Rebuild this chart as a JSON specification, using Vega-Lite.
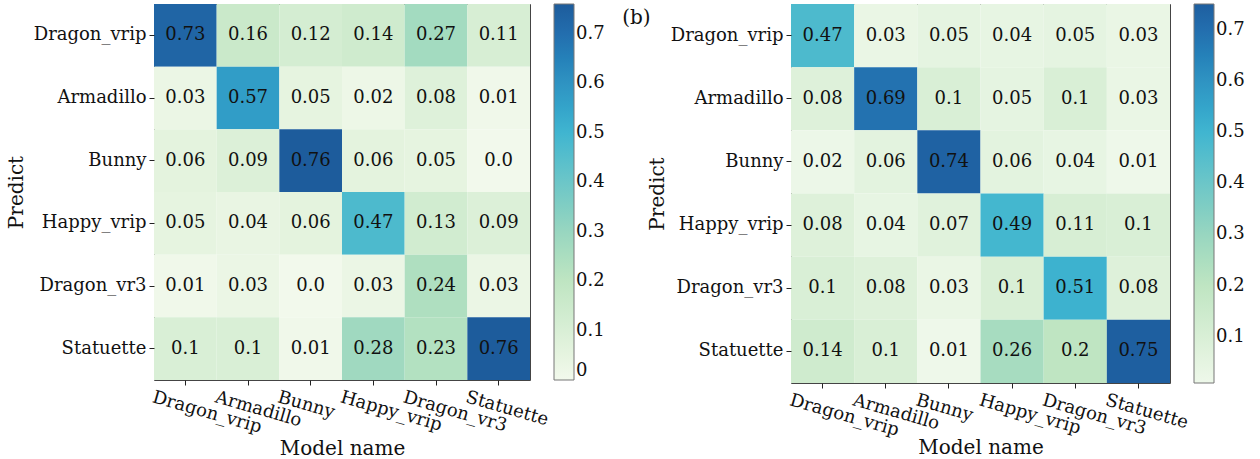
{
  "$schema": "https://vega.github.io/schema/vega-lite/v6.json",
  "padding": {"left": 5, "top": 3, "right": 5, "bottom": 0},
  "config": {
    "font": "DejaVu Serif",
    "view": {"stroke": "#444", "strokeWidth": 1},
    "axis": {"labelFontSize": 18, "titleFontSize": 20, "labelColor": "#111", "titleColor": "#111", "titleFontWeight": "normal", "domain": false, "tickColor": "#222", "tickSize": 5, "grid": false, "labelPadding": 3},
    "legend": {"labelFontSize": 18, "labelColor": "#111", "gradientStrokeColor": "#777", "gradientStrokeWidth": 1, "gradientThickness": 20, "labelOverlap": false, "labelOffset": 6, "offset": 24, "titlePadding": 0}
  },
  "datasets": {
    "a": [
      {"predict": "Dragon_vrip", "model": "Dragon_vrip", "value": 0.73, "lab": "0.73"},
      {"predict": "Dragon_vrip", "model": "Armadillo", "value": 0.16, "lab": "0.16"},
      {"predict": "Dragon_vrip", "model": "Bunny", "value": 0.12, "lab": "0.12"},
      {"predict": "Dragon_vrip", "model": "Happy_vrip", "value": 0.14, "lab": "0.14"},
      {"predict": "Dragon_vrip", "model": "Dragon_vr3", "value": 0.27, "lab": "0.27"},
      {"predict": "Dragon_vrip", "model": "Statuette", "value": 0.11, "lab": "0.11"},
      {"predict": "Armadillo", "model": "Dragon_vrip", "value": 0.03, "lab": "0.03"},
      {"predict": "Armadillo", "model": "Armadillo", "value": 0.57, "lab": "0.57"},
      {"predict": "Armadillo", "model": "Bunny", "value": 0.05, "lab": "0.05"},
      {"predict": "Armadillo", "model": "Happy_vrip", "value": 0.02, "lab": "0.02"},
      {"predict": "Armadillo", "model": "Dragon_vr3", "value": 0.08, "lab": "0.08"},
      {"predict": "Armadillo", "model": "Statuette", "value": 0.01, "lab": "0.01"},
      {"predict": "Bunny", "model": "Dragon_vrip", "value": 0.06, "lab": "0.06"},
      {"predict": "Bunny", "model": "Armadillo", "value": 0.09, "lab": "0.09"},
      {"predict": "Bunny", "model": "Bunny", "value": 0.76, "lab": "0.76"},
      {"predict": "Bunny", "model": "Happy_vrip", "value": 0.06, "lab": "0.06"},
      {"predict": "Bunny", "model": "Dragon_vr3", "value": 0.05, "lab": "0.05"},
      {"predict": "Bunny", "model": "Statuette", "value": 0.0, "lab": "0.0"},
      {"predict": "Happy_vrip", "model": "Dragon_vrip", "value": 0.05, "lab": "0.05"},
      {"predict": "Happy_vrip", "model": "Armadillo", "value": 0.04, "lab": "0.04"},
      {"predict": "Happy_vrip", "model": "Bunny", "value": 0.06, "lab": "0.06"},
      {"predict": "Happy_vrip", "model": "Happy_vrip", "value": 0.47, "lab": "0.47"},
      {"predict": "Happy_vrip", "model": "Dragon_vr3", "value": 0.13, "lab": "0.13"},
      {"predict": "Happy_vrip", "model": "Statuette", "value": 0.09, "lab": "0.09"},
      {"predict": "Dragon_vr3", "model": "Dragon_vrip", "value": 0.01, "lab": "0.01"},
      {"predict": "Dragon_vr3", "model": "Armadillo", "value": 0.03, "lab": "0.03"},
      {"predict": "Dragon_vr3", "model": "Bunny", "value": 0.0, "lab": "0.0"},
      {"predict": "Dragon_vr3", "model": "Happy_vrip", "value": 0.03, "lab": "0.03"},
      {"predict": "Dragon_vr3", "model": "Dragon_vr3", "value": 0.24, "lab": "0.24"},
      {"predict": "Dragon_vr3", "model": "Statuette", "value": 0.03, "lab": "0.03"},
      {"predict": "Statuette", "model": "Dragon_vrip", "value": 0.1, "lab": "0.1"},
      {"predict": "Statuette", "model": "Armadillo", "value": 0.1, "lab": "0.1"},
      {"predict": "Statuette", "model": "Bunny", "value": 0.01, "lab": "0.01"},
      {"predict": "Statuette", "model": "Happy_vrip", "value": 0.28, "lab": "0.28"},
      {"predict": "Statuette", "model": "Dragon_vr3", "value": 0.23, "lab": "0.23"},
      {"predict": "Statuette", "model": "Statuette", "value": 0.76, "lab": "0.76"}
    ],
    "b": [
      {"predict": "Dragon_vrip", "model": "Dragon_vrip", "value": 0.47, "lab": "0.47"},
      {"predict": "Dragon_vrip", "model": "Armadillo", "value": 0.03, "lab": "0.03"},
      {"predict": "Dragon_vrip", "model": "Bunny", "value": 0.05, "lab": "0.05"},
      {"predict": "Dragon_vrip", "model": "Happy_vrip", "value": 0.04, "lab": "0.04"},
      {"predict": "Dragon_vrip", "model": "Dragon_vr3", "value": 0.05, "lab": "0.05"},
      {"predict": "Dragon_vrip", "model": "Statuette", "value": 0.03, "lab": "0.03"},
      {"predict": "Armadillo", "model": "Dragon_vrip", "value": 0.08, "lab": "0.08"},
      {"predict": "Armadillo", "model": "Armadillo", "value": 0.69, "lab": "0.69"},
      {"predict": "Armadillo", "model": "Bunny", "value": 0.1, "lab": "0.1"},
      {"predict": "Armadillo", "model": "Happy_vrip", "value": 0.05, "lab": "0.05"},
      {"predict": "Armadillo", "model": "Dragon_vr3", "value": 0.1, "lab": "0.1"},
      {"predict": "Armadillo", "model": "Statuette", "value": 0.03, "lab": "0.03"},
      {"predict": "Bunny", "model": "Dragon_vrip", "value": 0.02, "lab": "0.02"},
      {"predict": "Bunny", "model": "Armadillo", "value": 0.06, "lab": "0.06"},
      {"predict": "Bunny", "model": "Bunny", "value": 0.74, "lab": "0.74"},
      {"predict": "Bunny", "model": "Happy_vrip", "value": 0.06, "lab": "0.06"},
      {"predict": "Bunny", "model": "Dragon_vr3", "value": 0.04, "lab": "0.04"},
      {"predict": "Bunny", "model": "Statuette", "value": 0.01, "lab": "0.01"},
      {"predict": "Happy_vrip", "model": "Dragon_vrip", "value": 0.08, "lab": "0.08"},
      {"predict": "Happy_vrip", "model": "Armadillo", "value": 0.04, "lab": "0.04"},
      {"predict": "Happy_vrip", "model": "Bunny", "value": 0.07, "lab": "0.07"},
      {"predict": "Happy_vrip", "model": "Happy_vrip", "value": 0.49, "lab": "0.49"},
      {"predict": "Happy_vrip", "model": "Dragon_vr3", "value": 0.11, "lab": "0.11"},
      {"predict": "Happy_vrip", "model": "Statuette", "value": 0.1, "lab": "0.1"},
      {"predict": "Dragon_vr3", "model": "Dragon_vrip", "value": 0.1, "lab": "0.1"},
      {"predict": "Dragon_vr3", "model": "Armadillo", "value": 0.08, "lab": "0.08"},
      {"predict": "Dragon_vr3", "model": "Bunny", "value": 0.03, "lab": "0.03"},
      {"predict": "Dragon_vr3", "model": "Happy_vrip", "value": 0.1, "lab": "0.1"},
      {"predict": "Dragon_vr3", "model": "Dragon_vr3", "value": 0.51, "lab": "0.51"},
      {"predict": "Dragon_vr3", "model": "Statuette", "value": 0.08, "lab": "0.08"},
      {"predict": "Statuette", "model": "Dragon_vrip", "value": 0.14, "lab": "0.14"},
      {"predict": "Statuette", "model": "Armadillo", "value": 0.1, "lab": "0.1"},
      {"predict": "Statuette", "model": "Bunny", "value": 0.01, "lab": "0.01"},
      {"predict": "Statuette", "model": "Happy_vrip", "value": 0.26, "lab": "0.26"},
      {"predict": "Statuette", "model": "Dragon_vr3", "value": 0.2, "lab": "0.2"},
      {"predict": "Statuette", "model": "Statuette", "value": 0.75, "lab": "0.75"}
    ]
  },
  "spacing": 15,
  "resolve": {"scale": {"color": "independent"}},
  "hconcat": [
    {
      "width": 376,
      "height": 376,
      "data": {"name": "a"},
      "encoding": {
        "x": {"field": "model", "type": "nominal", "sort": ["Dragon_vrip", "Armadillo", "Bunny", "Happy_vrip", "Dragon_vr3", "Statuette"], "title": "Model name", "axis": {"labelAngle": 16, "labelAlign": "left", "labelBaseline": "top", "labelOffset": -30, "titlePadding": 2}},
        "y": {"field": "predict", "type": "nominal", "sort": ["Dragon_vrip", "Armadillo", "Bunny", "Happy_vrip", "Dragon_vr3", "Statuette"], "title": "Predict", "axis": {"titlePadding": 7}}
      },
      "layer": [
        {
          "mark": {"type": "rect"},
          "encoding": {
            "color": {"field": "value", "type": "quantitative",
              "scale": {"domain": [0, 0.1, 0.2, 0.3, 0.4, 0.5, 0.6, 0.7, 0.76], "range": ["#f2f9ec", "#d9efd6", "#bfe5c2", "#98d6c0", "#6cc6c8", "#40b5d0", "#2f93c2", "#236eae", "#1d5c9c"]},
              "legend": {"title": null, "gradientLength": 376, "values": [0, 0.1, 0.2, 0.3, 0.4, 0.5, 0.6, 0.7], "labelExpr": "datum.value == 0 ? '0' : format(datum.value, '.1f')"}}
          }
        },
        {
          "mark": {"type": "text", "fontSize": 18, "color": "#111"},
          "encoding": {"text": {"field": "lab"}}
        }
      ]
    },
    {
      "width": 379,
      "height": 379,
      "data": {"name": "b"},
      "title": {"text": "(b)", "anchor": "start", "frame": "bounds", "fontSize": 20, "fontWeight": "normal", "color": "#111", "offset": -24, "dx": -25},
      "encoding": {
        "x": {"field": "model", "type": "nominal", "sort": ["Dragon_vrip", "Armadillo", "Bunny", "Happy_vrip", "Dragon_vr3", "Statuette"], "title": "Model name", "axis": {"labelAngle": 16, "labelAlign": "left", "labelBaseline": "top", "labelOffset": -30, "titlePadding": -2}},
        "y": {"field": "predict", "type": "nominal", "sort": ["Dragon_vrip", "Armadillo", "Bunny", "Happy_vrip", "Dragon_vr3", "Statuette"], "title": "Predict", "axis": {"titlePadding": 3}}
      },
      "layer": [
        {
          "mark": {"type": "rect"},
          "encoding": {
            "color": {"field": "value", "type": "quantitative",
              "scale": {"domain": [0.01, 0.1, 0.2, 0.3, 0.4, 0.5, 0.6, 0.7, 0.75], "range": ["#eef8ea", "#d9efd6", "#bfe5c2", "#98d6c0", "#6cc6c8", "#40b5d0", "#2f93c2", "#236eae", "#1e5fa0"]},
              "legend": {"title": null, "gradientLength": 379, "values": [0.1, 0.2, 0.3, 0.4, 0.5, 0.6, 0.7]}}
          }
        },
        {
          "mark": {"type": "text", "fontSize": 18, "color": "#111"},
          "encoding": {"text": {"field": "lab"}}
        }
      ]
    }
  ]
}
